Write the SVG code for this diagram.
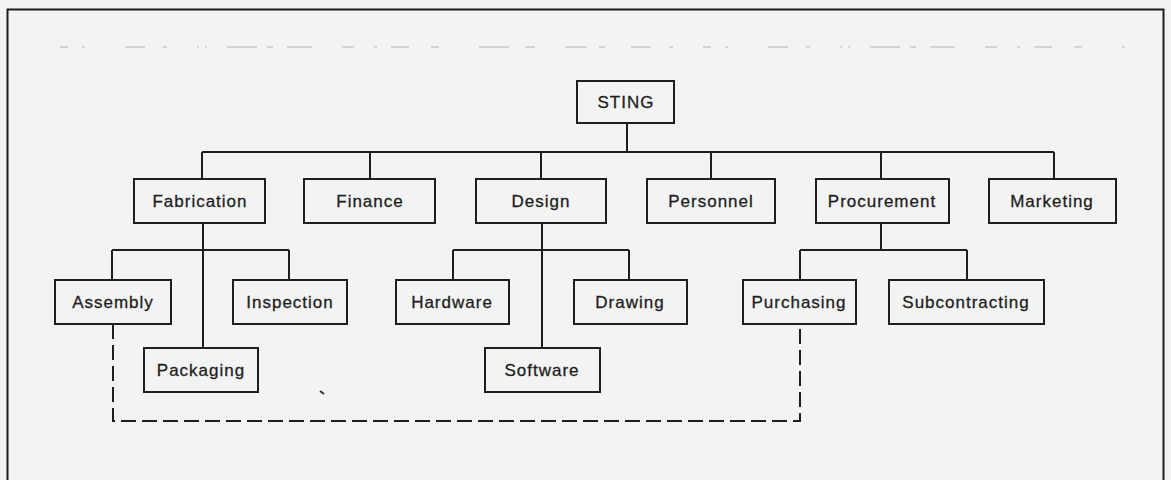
<svg xmlns="http://www.w3.org/2000/svg" width="1171" height="480" viewBox="0 0 1171 480">
  <style>
    .box { fill: none; stroke: #1e1e1e; stroke-width: 2; }
    .lbl { font-family: "Liberation Sans", Arial, sans-serif; font-size: 17px; letter-spacing: 1px; fill: #1e1e1e; stroke: #1e1e1e; stroke-width: 0.3; text-anchor: middle; }
    .conn { fill: none; stroke: #1e1e1e; stroke-width: 2; }
    .dash { fill: none; stroke: #1e1e1e; stroke-width: 2; stroke-dasharray: 15 6; }
  </style>
  <rect x="0" y="0" width="1171" height="480" fill="#f3f3f3"/>
  <path d="M7.5,480 V9.5 H1163.5 V480" fill="none" stroke="#1e1e1e" stroke-width="2"/>
  <path d="M60,47 H1125" fill="none" stroke="#b4b4b4" stroke-width="1.2" stroke-dasharray="8 14 3 40 20 18 4 30 2 6 2 20 30 10 6 14 25 30 12 20 3 14 18 22 8 40 30 16 10 30 22 12 6 26 20 18 4 30"/>
  <path d="M320,391 l4,3" stroke="#333" stroke-width="2"/>

  <g id="connectors">
    <path class="conn" d="M627,123 V152 M202,152 H1054 M202,152 V179 M370,152 V179 M541,152 V179 M711,152 V179 M881,152 V179 M1054,152 V179"/>
    <path class="conn" d="M203,223 V348 M112,250 H289 M112,250 V280 M289,250 V280"/>
    <path class="conn" d="M542,223 V348 M453,250 H629 M453,250 V280 M629,250 V280"/>
    <path class="conn" d="M881,223 V250 M800,250 H967 M800,250 V280 M967,250 V280"/>
    <path class="dash" d="M113,324 V421 H800 V324"/>
  </g>

  <g id="n-sting"><rect class="box" x="577" y="81" width="97" height="42"/><text class="lbl" x="626" y="108">STING</text></g>

  <g id="n-fabrication"><rect class="box" x="134" y="179" width="131" height="44"/><text class="lbl" x="200" y="207">Fabrication</text></g>
  <g id="n-finance"><rect class="box" x="304" y="179" width="131" height="44"/><text class="lbl" x="370" y="207">Finance</text></g>
  <g id="n-design"><rect class="box" x="476" y="179" width="130" height="44"/><text class="lbl" x="541" y="207">Design</text></g>
  <g id="n-personnel"><rect class="box" x="647" y="179" width="128" height="44"/><text class="lbl" x="711" y="207">Personnel</text></g>
  <g id="n-procurement"><rect class="box" x="816" y="179" width="133" height="44"/><text class="lbl" x="882" y="207">Procurement</text></g>
  <g id="n-marketing"><rect class="box" x="989" y="179" width="127" height="44"/><text class="lbl" x="1052" y="207">Marketing</text></g>

  <g id="n-assembly"><rect class="box" x="55" y="280" width="116" height="44"/><text class="lbl" x="113" y="308">Assembly</text></g>
  <g id="n-inspection"><rect class="box" x="233" y="280" width="114" height="44"/><text class="lbl" x="290" y="308">Inspection</text></g>
  <g id="n-hardware"><rect class="box" x="396" y="280" width="113" height="44"/><text class="lbl" x="452" y="308">Hardware</text></g>
  <g id="n-drawing"><rect class="box" x="574" y="280" width="113" height="44"/><text class="lbl" x="630" y="308">Drawing</text></g>
  <g id="n-purchasing"><rect class="box" x="743" y="280" width="113" height="44"/><text class="lbl" x="799" y="308">Purchasing</text></g>
  <g id="n-subcontracting"><rect class="box" x="889" y="280" width="155" height="44"/><text class="lbl" x="966" y="308">Subcontracting</text></g>

  <g id="n-packaging"><rect class="box" x="144" y="348" width="114" height="44"/><text class="lbl" x="201" y="376">Packaging</text></g>
  <g id="n-software"><rect class="box" x="485" y="348" width="115" height="44"/><text class="lbl" x="542" y="376">Software</text></g>
</svg>
